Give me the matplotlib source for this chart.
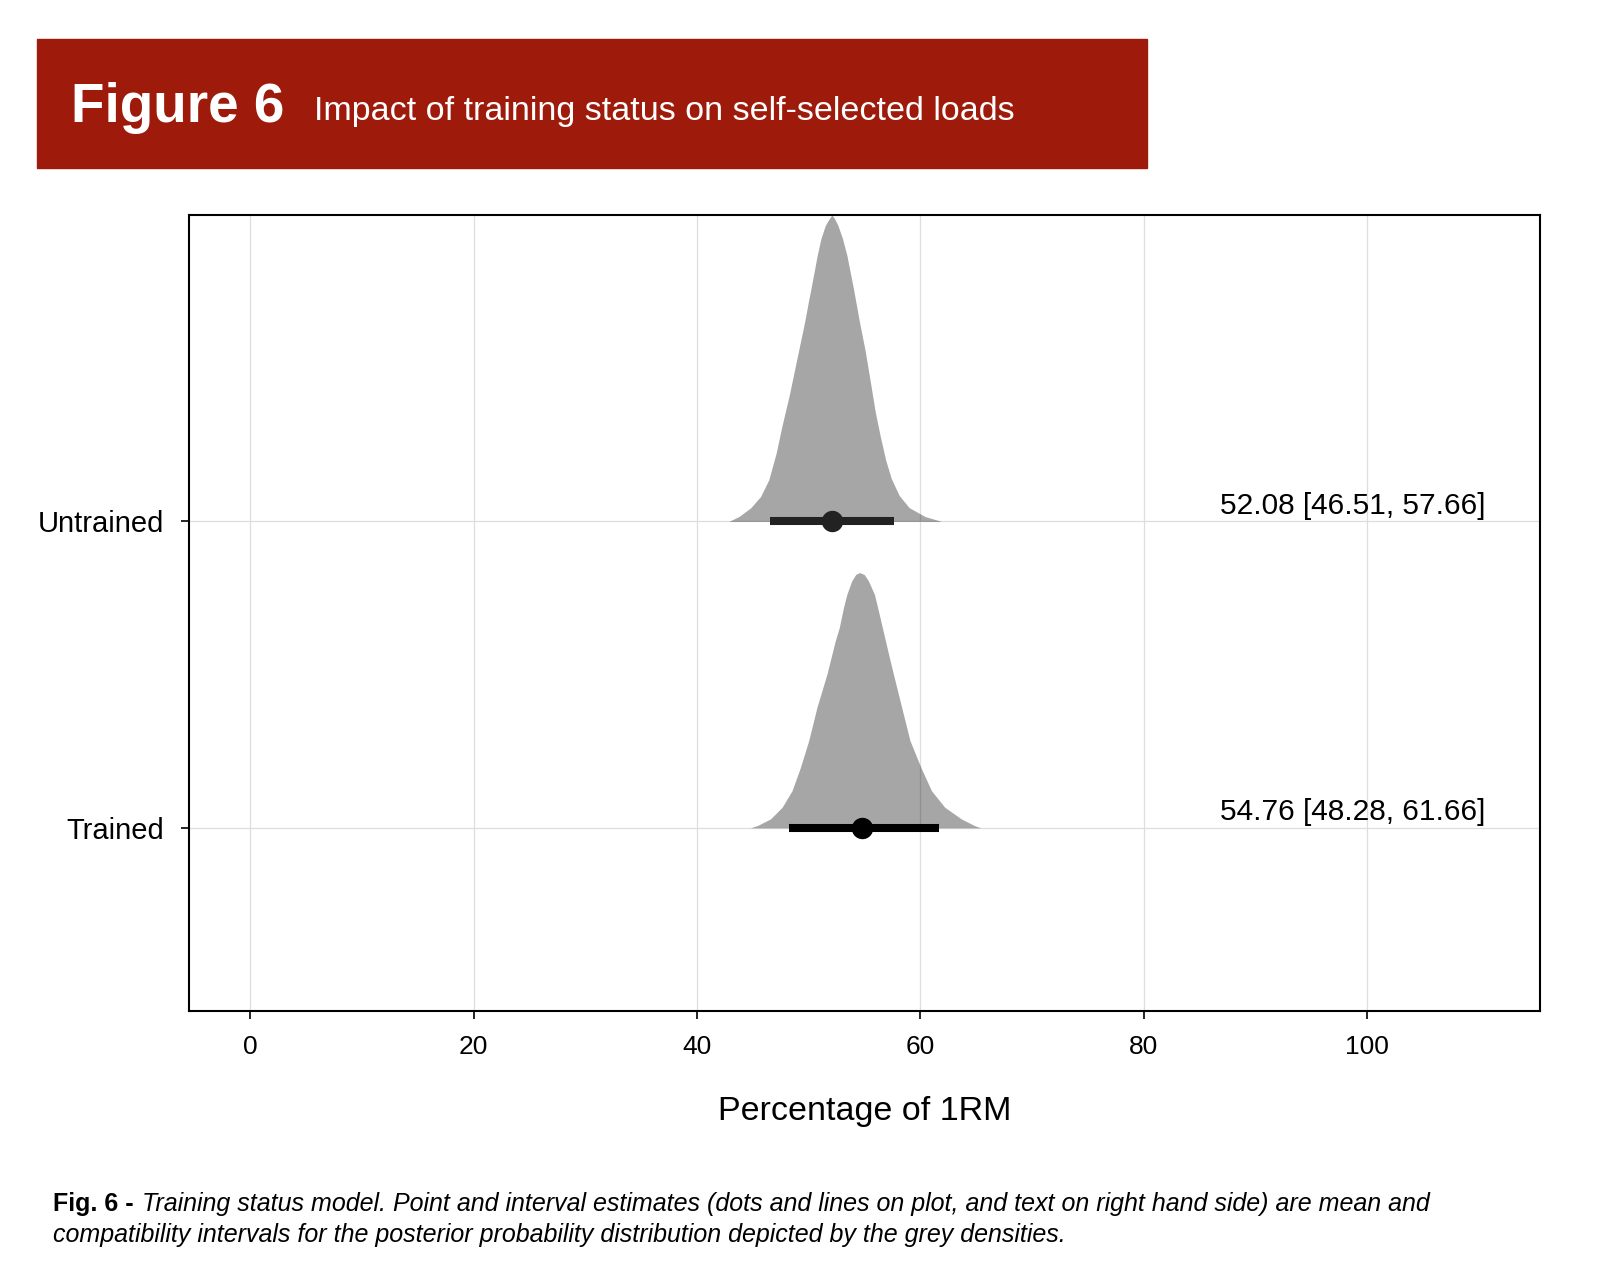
import matplotlib
matplotlib.use("Agg")
import matplotlib.pyplot as plt
from matplotlib.patches import Rectangle

plt.rcParams['font.family'] = ['Liberation Sans', 'DejaVu Sans']

# groups, from bottom to top
groups = ["Trained", "Untrained"]
means = [54.76, 52.08]
lower = [48.28, 46.51]
upper = [61.66, 57.66]
point_colors = ["#000000", "#222222"]

# posterior density outlines (x in %1RM, height in group units)
trained_x = [44.80, 45.39, 46.58, 47.62, 48.51, 49.26, 50.00, 50.74, 51.64, 52.38, 52.74,
             53.12, 53.42, 53.86, 54.22, 54.55, 54.97, 55.35, 55.89, 56.30, 56.75, 57.20,
             57.60, 58.33, 59.07, 60.05, 61.00, 62.19, 63.68, 64.87, 65.41]
trained_h = [0.0, 0.007, 0.029, 0.067, 0.121, 0.197, 0.284, 0.393, 0.502, 0.610, 0.653,
             0.719, 0.762, 0.806, 0.827, 0.833, 0.827, 0.806, 0.762, 0.700, 0.630, 0.560,
             0.500, 0.393, 0.285, 0.197, 0.121, 0.067, 0.029, 0.007, 0.0]
untrained_x = [42.86, 43.76, 44.80, 45.69, 46.43, 47.09, 47.60, 48.25, 49.11, 49.64, 50.00,
               50.21, 50.77, 51.10, 51.49, 51.85, 52.08, 52.32, 52.62, 53.03, 53.42, 54.01,
               54.55, 55.05, 55.55, 55.95, 56.40, 56.90, 57.40, 58.10, 59.00, 60.41, 61.89]
untrained_h = [0.0, 0.016, 0.044, 0.081, 0.136, 0.223, 0.310, 0.410, 0.559, 0.651, 0.722,
               0.760, 0.869, 0.923, 0.966, 0.988, 1.0, 0.988, 0.966, 0.923, 0.869, 0.760,
               0.651, 0.559, 0.450, 0.360, 0.280, 0.200, 0.140, 0.085, 0.045, 0.016, 0.0]
dens_x = [trained_x, untrained_x]
dens_h = [trained_h, untrained_h]

x_ticks = [0, 20, 40, 60, 80, 100]

fig = plt.figure(figsize=(16, 12.85), dpi=100)

# red title banner
fig.patches.append(Rectangle((36.7 / 1600, 1 - 168.4 / 1285), (1147 - 36.7) / 1600, (168.4 - 38.8) / 1285,
                             transform=fig.transFigure, color='#9e1b0c', zorder=0))
fig.text(71 / 1600, 1 - 122.5 / 1285, "Figure 6", fontsize=39.5, weight='bold', color='white', va='baseline')
fig.text(314 / 1600, 1 - 120 / 1285, "Impact of training status on self-selected loads",
         fontsize=24.5, color='white', va='baseline')

ax = fig.add_axes([0.1181, 0.2132, 0.8444, 0.6195])

for i, g in enumerate(groups):
    y0 = i + 1
    ax.fill_between(dens_x[i], [y0 + h for h in dens_h[i]], y0, color='black', alpha=0.35,
                    linewidth=0, zorder=2)
    ax.plot([lower[i], upper[i]], [y0, y0], color=point_colors[i], linewidth=5.8,
            solid_capstyle='butt', zorder=3)
    ax.plot(means[i], y0, 'o', color=point_colors[i], markersize=14.4, zorder=4)
    ax.text(98.75, y0 + 0.024, f"{means[i]:.2f} [{lower[i]:.2f}, {upper[i]:.2f}]",
            ha='center', va='baseline', fontsize=21.5, zorder=5)

ax.set_xlim(-5.5, 115.5)
ax.set_ylim(0.402, 3.0)
ax.set_xticks(x_ticks)
ax.set_yticks([1, 2])
ax.set_yticklabels(groups)
ax.grid(True, color='#dedede', linewidth=0.9, zorder=0)
ax.set_axisbelow(True)
for s in ax.spines.values():
    s.set_linewidth(1.5)
    s.set_color('black')
ax.tick_params(axis='x', length=6, width=1.2, pad=11, labelsize=19)
ax.tick_params(axis='y', length=6, width=1.2, pad=12, labelsize=21)

ax.set_xlabel("Percentage of 1RM", fontsize=24.5)
ax.xaxis.set_label_coords(0.5, -0.107)
ax.xaxis.label.set_va('top')

# caption: bold lead-in, then italic text
cap_size = 18
fig.text(53 / 1600, 1 - 1211 / 1285, "Fig. 6 -", fontsize=cap_size, weight='bold', va='baseline')
fig.text(142 / 1600, 1 - 1211 / 1285,
         "Training status model. Point and interval estimates (dots and lines on plot, and text on right hand side) are mean and",
         fontsize=cap_size, style='italic', va='baseline')
fig.text(53 / 1600, 1 - 1242 / 1285,
         "compatibility intervals for the posterior probability distribution depicted by the grey densities.",
         fontsize=cap_size, style='italic', va='baseline')

fig.savefig("out.png", dpi=100, facecolor='white')
